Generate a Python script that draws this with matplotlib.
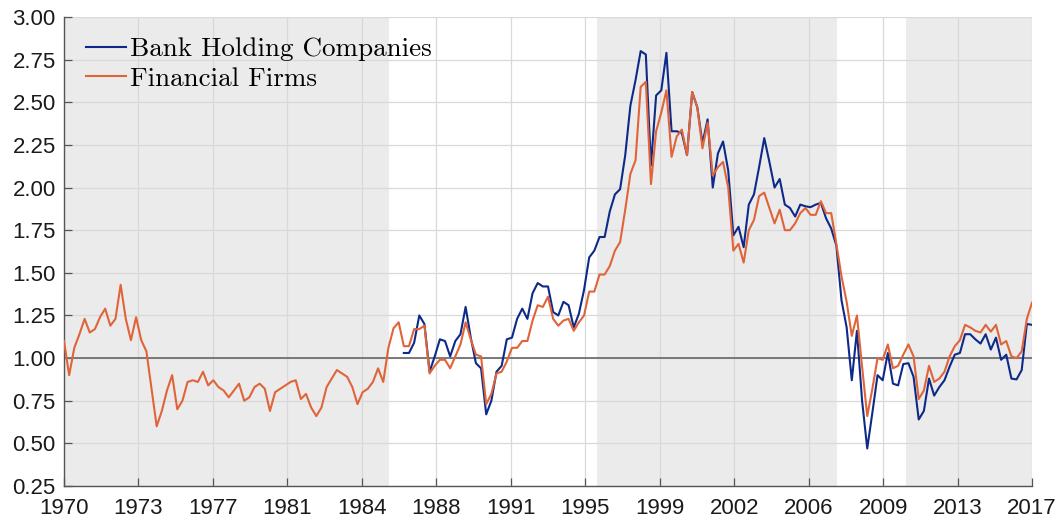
import numpy as np
import matplotlib
matplotlib.use("Agg")
import matplotlib.pyplot as plt

# quarterly series, 1970Q1 .. 2017Q1
financial_firms = [
    1.10, 0.90, 1.06, 1.14, 1.23, 1.15, 1.17, 1.24, 1.29, 1.19,
    1.23, 1.43, 1.23, 1.105, 1.24, 1.105, 1.04, 0.82, 0.60, 0.69,
    0.81, 0.90, 0.70, 0.75, 0.86, 0.87, 0.86, 0.92, 0.84, 0.87,
    0.83, 0.81, 0.77, 0.81, 0.85, 0.75, 0.77, 0.83, 0.85, 0.82,
    0.69, 0.80, 0.82, 0.84, 0.86, 0.87, 0.76, 0.79, 0.71, 0.66,
    0.71, 0.83, 0.88, 0.93, 0.91, 0.89, 0.83, 0.73, 0.80, 0.82,
    0.86, 0.94, 0.86, 1.06, 1.175, 1.21, 1.07, 1.07, 1.17, 1.17,
    1.19, 0.91, 0.955, 0.99, 0.99, 0.94, 1.01, 1.08, 1.21, 1.11,
    1.02, 1.01, 0.73, 0.79, 0.91, 0.92, 0.98, 1.06, 1.06, 1.10,
    1.10, 1.22, 1.31, 1.30, 1.36, 1.23, 1.19, 1.22, 1.23, 1.16,
    1.21, 1.25, 1.39, 1.39, 1.49, 1.49, 1.54, 1.63, 1.68, 1.87,
    2.08, 2.16, 2.59, 2.62, 2.02, 2.33, 2.44, 2.57, 2.18, 2.30,
    2.34, 2.19, 2.56, 2.47, 2.23, 2.38, 2.07, 2.12, 2.15, 2.00,
    1.63, 1.67, 1.56, 1.75, 1.81, 1.95, 1.97, 1.88, 1.79, 1.87,
    1.75, 1.75, 1.79, 1.85, 1.88, 1.84, 1.84, 1.92, 1.85, 1.85,
    1.67, 1.48, 1.33, 1.13, 1.25, 0.95, 0.66, 0.82, 1.00, 0.99,
    1.08, 0.94, 0.955, 1.02, 1.08, 1.01, 0.76, 0.81, 0.955, 0.86,
    0.88, 0.92, 1.01, 1.07, 1.105, 1.195, 1.18, 1.16, 1.15, 1.195,
    1.155, 1.195, 1.08, 1.10, 1.01, 1.00, 1.04, 1.23, 1.325,
]

# starts at 1986Q3 (quarter index 66)
bhc_start = 66
bank_holding = [
    1.03, 1.03, 1.09, 1.25, 1.20, 0.92, 1.01, 1.11, 1.10, 1.01,
    1.10, 1.14, 1.30, 1.12, 0.97, 0.94, 0.67, 0.75, 0.92, 0.955,
    1.11, 1.12, 1.23, 1.29, 1.23, 1.38, 1.44, 1.42, 1.42, 1.27,
    1.25, 1.33, 1.31, 1.18, 1.26, 1.40, 1.59, 1.63, 1.71, 1.71,
    1.86, 1.96, 1.99, 2.19, 2.48, 2.63, 2.80, 2.78, 2.13, 2.54,
    2.57, 2.79, 2.33, 2.33, 2.32, 2.19, 2.56, 2.47, 2.26, 2.40,
    2.00, 2.20, 2.27, 2.10, 1.72, 1.77, 1.65, 1.90, 1.96, 2.12,
    2.29, 2.15, 2.00, 2.05, 1.90, 1.88, 1.83, 1.90, 1.89, 1.885,
    1.90, 1.91, 1.82, 1.76, 1.66, 1.34, 1.18, 0.87, 1.16, 0.75,
    0.47, 0.68, 0.90, 0.87, 1.03, 0.85, 0.84, 0.965, 0.97, 0.89,
    0.64, 0.69, 0.88, 0.78, 0.83, 0.87, 0.95, 1.02, 1.03, 1.14,
    1.14, 1.11, 1.085, 1.14, 1.05, 1.12, 0.99, 1.02, 0.88, 0.875,
    0.93, 1.20, 1.195,
]

shaded_periods = [(1970.0, 1985.8), (1995.9, 2007.55), (2010.9, 2017.0)]
xtick_labels = ["1970", "1973", "1977", "1981", "1984", "1988", "1991",
                "1995", "1999", "2002", "2006", "2009", "2013", "2017"]

x_ff = 1970 + np.arange(len(financial_firms)) / 4
x_bhc = 1970 + (bhc_start + np.arange(len(bank_holding))) / 4

plt.rcParams['font.family'] = ['Liberation Sans', 'DejaVu Sans']

fig = plt.figure(figsize=(10.61, 5.21), dpi=100)
ax = fig.add_axes([64 / 1061, 35 / 521, 968 / 1061, 469 / 521])

for a, b in shaded_periods:
    ax.axvspan(a, b, color='#ebebeb', lw=0, zorder=0)

ax.axhline(1.0, color='#707070', lw=1.3, zorder=2)
ax.plot(x_bhc, bank_holding, color='#0d2a8a', lw=1.5, label='Bank Holding Companies', zorder=3)
ax.plot(x_ff, financial_firms, color='#e0643a', lw=1.5, label='Financial Firms', zorder=4)

ax.set_xlim(1970, 2017)
ax.set_ylim(0.25, 3.0)
ax.set_xticks(np.linspace(1970, 2017, len(xtick_labels)))
ax.set_xticklabels(xtick_labels)
ax.set_yticks(np.arange(0.25, 3.01, 0.25))
ax.set_yticklabels([f"{v:.2f}" for v in np.arange(0.25, 3.01, 0.25)])

ax.grid(True, color='#d9d9d9', lw=0.9, zorder=1)
ax.set_axisbelow(True)
for s in ['top', 'right']:
    ax.spines[s].set_visible(False)
for s in ['left', 'bottom']:
    ax.spines[s].set_color('#555555')
    ax.spines[s].set_linewidth(1.0)
ax.tick_params(direction='in', length=6, width=0.9, color='#555555',
               labelsize=16, labelcolor='#1a1a1a', pad=6)
ax.tick_params(axis='x', pad=9)

leg = ax.legend(loc='upper left', bbox_to_anchor=(0.012, 0.98), frameon=False,
                prop={'family': 'cmr10', 'size': 19.5}, handlelength=1.45,
                handletextpad=0.15, labelspacing=0.2, borderaxespad=0.0)

fig.savefig('out.png', dpi=100)
